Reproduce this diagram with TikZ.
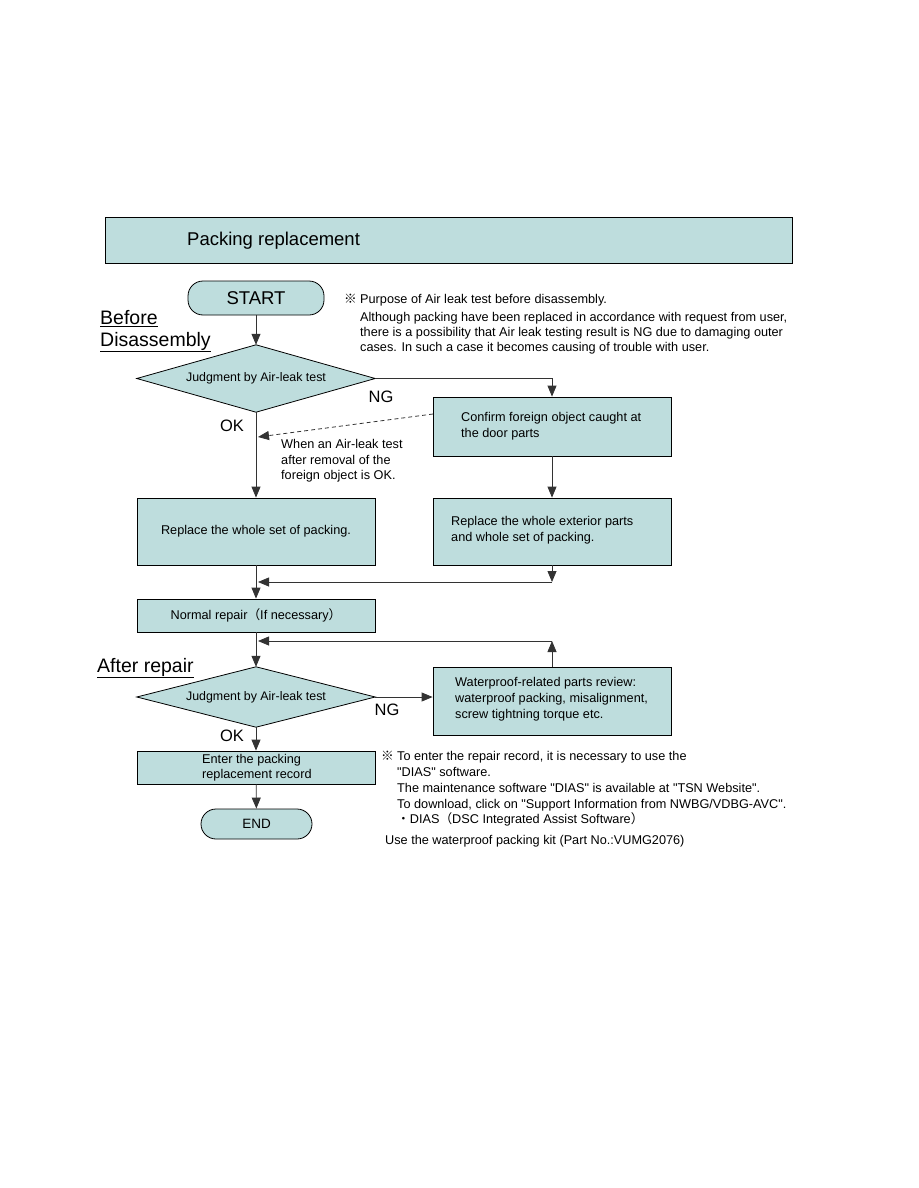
\documentclass[tikz,border=0pt]{standalone}
\usepackage{fontspec}
\setmainfont{Liberation Sans}
\newfontfamily\cjk{Noto Sans CJK JP}[BoldFont={* Bold}]
\usetikzlibrary{arrows.meta,calc}
\definecolor{boxfill}{RGB}{190,221,221}
\newcommand\qq{\textquotedbl}
\newcommand\kome{{\cjk\bfseries ※}}
\tikzset{
  shapefill/.style={draw=black, fill=boxfill, line width=0.8pt},
  base/.style={shapefill, inner sep=0pt, font=\fontsize{12.7}{15.5}\selectfont},
  procbox/.style={base, rectangle, minimum width=238pt},
  terminal/.style={base, rectangle, rounded corners=15pt},
  dframe/.style={minimum width=238pt, inner sep=0pt},
  dtext/.style={inner sep=0pt, font=\fontsize{12.4}{15.5}\selectfont},
  boxtext/.style={inner sep=0pt, anchor=west, align=left, font=\fontsize{12.7}{15.8}\selectfont},
  arr/.style={line width=0.8pt, draw=black!80, -{Triangle[length=11pt,width=9pt]}},
  lbl/.style={font=\fontsize{16.5}{18}\selectfont, inner sep=0pt},
  section/.style={font=\fontsize{19.5}{23}\selectfont, inner sep=0pt, anchor=west, align=left},
  noteline/.style={font=\fontsize{12.7}{15.5}\selectfont, inner sep=0pt, anchor=base west},
}
\begin{document}
\begin{tikzpicture}[x=1pt,y=-1pt]
\useasboundingbox (0,0) rectangle (918,1188);
% title bar
\node[base, rectangle, minimum width=687pt, minimum height=46pt] (title) at (448.5,240) {};
\node[anchor=west, inner sep=0pt, font=\fontsize{18.5}{22}\selectfont] (titletext) at (187,241) {Packing replacement};
% start
\node[terminal, minimum width=136pt, minimum height=34pt, font=\fontsize{18.5}{22}\selectfont] (start) at (256,298) {START};
% section labels
\node[section] (before) at (100,319) {\underline{Before}};
\node[section] (disas) at (100,342) {\underline{Disassembly}};
\node[section] (after) at (97,668) {\underline{After repair}};
% note 1
\node[noteline] (n1mark) at (344,303) {\kome};
\node[noteline] (n1a) at (360,303) {Purpose of Air leak test before disassembly.};
\node[noteline] (n1b) at (360,321) {Although packing have been replaced in accordance with request from user,};
\node[noteline] (n1c) at (360,336) {there is a possibility that Air leak testing result is NG due to damaging outer};
\node[noteline] (n1d) at (360,351) {cases. In such a case it becomes causing of trouble with user.};
% decision 1
\node[dframe, minimum height=67pt] (d1) at (256,378.5) {};
\filldraw[shapefill] (d1.west) -- (d1.north) -- (d1.east) -- (d1.south) -- cycle;
\node[dtext] (d1t) at (d1) {Judgment by Air-leak test};
\node[lbl] (ng1) at (381,397) {NG};
\node[lbl] (ok1) at (232,426) {OK};
% confirm
\node[procbox, minimum height=59pt] (confirm) at (552,426.5) {};
\node[boxtext] (confirmt) at (461,426) {Confirm foreign object caught at\\the door parts};
\node[noteline] (n2a) at (281,448) {When an Air-leak test};
\node[noteline] (n2b) at (281,464) {after removal of the};
\node[noteline] (n2c) at (281,479) {foreign object is OK.};
% replace boxes
\node[procbox, minimum height=67pt] (rep1) at (256,531.5) {Replace the whole set of packing.};
\node[procbox, minimum height=67pt] (rep2) at (552,531.5) {};
\node[boxtext] (rep2t) at (451,530.5) {Replace the whole exterior parts\\and whole set of packing.};
% normal repair
\node[procbox, minimum height=33pt] (normal) at (256,615.5) {Normal repair{\cjk （}If necessary{\cjk ）}};
% decision 2
\node[dframe, minimum height=60pt] (d2) at (256,697) {};
\filldraw[shapefill] (d2.west) -- (d2.north) -- (d2.east) -- (d2.south) -- cycle;
\node[dtext] (d2t) at (d2) {Judgment by Air-leak test};
\node[lbl] (ng2) at (387,710) {NG};
\node[lbl] (ok2) at (232,736) {OK};
\node[procbox, minimum height=68pt] (wp) at (552,701) {};
\node[boxtext] (wpt) at (455,699.5) {Waterproof-related parts review:\\waterproof packing, misalignment,\\screw tightning torque etc.};
% record
\node[procbox, minimum height=33pt] (rec) at (256,767.5) {};
\node[boxtext, font=\fontsize{12.7}{15}\selectfont] (rectext) at (202,768) {Enter the packing\\replacement record};
% end
\node[terminal, minimum width=111pt, minimum height=30pt, font=\fontsize{13.5}{15}\selectfont] (end) at (256.5,824) {END};
% note 3
\node[noteline] (n3mark) at (381,760) {\kome};
\node[noteline] (n3a) at (397,760) {To enter the repair record, it is necessary to use the};
\node[noteline] (n3b) at (397,776) {\qq DIAS\qq{} software.};
\node[noteline] (n3c) at (397,792) {The maintenance software \qq DIAS\qq{} is available at \qq TSN Website\qq .};
\node[noteline] (n3d) at (397,808) {To download, click on \qq Support Information from NWBG/VDBG-AVC\qq .};
\node[noteline] (n3e) at (397,823) {{\cjk ・}DIAS{\cjk （}DSC Integrated Assist Software{\cjk ）}};
\node[noteline] (n4) at (385,844) {Use the waterproof packing kit (Part No.:VUMG2076)};
% connectors
\coordinate (dashs) at (433,414);
\coordinate (dashe) at (258,437);
\coordinate (m1) at (552,582);
\coordinate (j1) at (258,582);
\coordinate (m2) at (552,641);
\coordinate (j2) at (258,641);
\draw[arr] (start) -- (d1);
\draw[arr] (d1.east) -| (confirm.north);
\draw[arr] (d1.south) -- (rep1.north);
\draw[arr, dash pattern=on 4pt off 3pt] (dashs) -- (dashe);
\draw[arr] (confirm) -- (rep2);
\draw[arr] (rep1) -- (normal);
\draw[arr] (rep2.south) -- (m1);
\draw[arr] (m1) -- (j1);
\draw[arr] (normal) -- (d2);
\draw[arr] (wp.north) -- (m2);
\draw[arr] (m2) -- (j2);
\draw[arr] (d2.east) -- (wp.west |- d2.east);
\draw[arr] (d2.south) -- (rec.north);
\draw[arr] (rec) -- (end);
\end{tikzpicture}
\end{document}
